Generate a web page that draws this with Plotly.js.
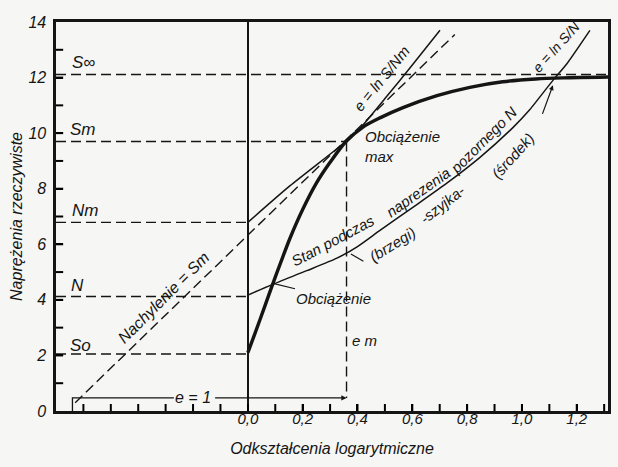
<!DOCTYPE html>
<html>
<head>
<meta charset="utf-8">
<script src="https://cdn.plot.ly/plotly-3.0.1.min.js"></script>
<style>
  html, body { margin: 0; padding: 0; background: #f6f6f4; }
  #chart { width: 618px; height: 467px; }
</style>
</head>
<body>
<div id="chart"></div>
<script>
// ---- data ----
// true stress-strain curve (thick)
const strainTrue = [0, 0.03, 0.06, 0.09, 0.12, 0.153, 0.2, 0.25, 0.3, 0.358, 0.42, 0.482, 0.566, 0.69, 0.81, 0.93, 1.05, 1.15, 1.314];
const stressTrue = [2.1, 2.9, 3.72, 4.55, 5.35, 6.2, 7.25, 8.2, 8.95, 9.70, 10.22, 10.55, 10.92, 11.35, 11.65, 11.85, 11.95, 11.99, 12.02];
// e = ln S/Nm
const strainNm = [0, 0.153, 0.358, 0.409, 0.504, 0.60, 0.701];
const stressNm = [6.79, 8.1, 9.70, 10.17, 11.29, 12.45, 13.70];
// e = ln S/N  (stan podczas naprezenia pozornego N)
const strainN = [0, 0.088, 0.215, 0.325, 0.40, 0.482, 0.602, 0.726, 0.847, 0.967, 1.029, 1.113, 1.164, 1.248];
const stressN = [4.17, 4.55, 5.05, 5.5, 5.92, 6.5, 7.33, 8.2, 9.13, 10.2, 10.85, 11.9, 12.5, 13.7];
// tangent "Nachylenie = Sm"
const strainTan = [-0.63, 0.755];
const stressTan = [0.3, 13.55];
// characteristic levels
const levelNames = ['S∞', 'Sm', 'Nm', 'N', 'So'];
const levelValues = [12.11, 9.70, 6.79, 4.12, 2.05];
const levelEnds = [1.314, 0.36, 0, 0, 0];
const strainMax = 0.36;        // e m
const bracketStart = -0.64;    // e m - 1
const bracketLevel = 0.47;
const xMin = -0.70, xMax = 1.314;
const xLabelVals = [0, 0.2, 0.4, 0.6, 0.8, 1.0, 1.2];
const xLabelText = ['0,0', '0,2', '0,4', '0,6', '0,8', '1,0', '1,2'];
const xMarkVals = [-0.6, -0.5, -0.4, -0.3, -0.2, -0.1, 0.1, 0.2, 0.3, 0.4, 0.5, 0.6, 0.7, 0.8, 0.9, 1.0, 1.1, 1.2, 1.3];
const yMarkVals = [1, 2, 3, 4, 5, 6, 7, 8, 9, 10, 11, 12, 13];

// ---- styling ----
const ink = '#151515';
const fam = 'Liberation Sans, DejaVu Sans, sans-serif';
const txt = (size) => ({ family: fam, size: size, color: ink, style: 'italic' });
const dashStyle = { color: ink, width: 1.4, dash: '10px,5px' };

const traces = [];
levelValues.forEach((v, i) => {
  traces.push({ x: [xMin, levelEnds[i]], y: [v, v], mode: 'lines', line: dashStyle, hoverinfo: 'skip' });
});
traces.push({ x: [strainMax, strainMax], y: [levelValues[1], bracketLevel], mode: 'lines', line: dashStyle, hoverinfo: 'skip' });
traces.push({ x: strainTan, y: stressTan, mode: 'lines', line: dashStyle, hoverinfo: 'skip' });
traces.push({ x: [bracketStart, bracketStart, -0.27], y: [0, bracketLevel, bracketLevel], mode: 'lines', line: { color: ink, width: 1.3 }, hoverinfo: 'skip' });
traces.push({ x: strainNm, y: stressNm, mode: 'lines', line: { color: ink, width: 1.5, shape: 'spline', smoothing: 0.6 } });
traces.push({ x: strainN, y: stressN, mode: 'lines', line: { color: ink, width: 1.5, shape: 'spline', smoothing: 0.6 } });
traces.push({ x: strainTrue, y: stressTrue, mode: 'lines', line: { color: ink, width: 3.4, shape: 'spline', smoothing: 0.8 } });

const ann = [];
const labelPos = [[-0.60, 12.55], [-0.60, 10.12], [-0.595, 7.23], [-0.62, 4.53], [-0.61, 2.37]];
levelNames.forEach((n, i) => {
  ann.push({ x: labelPos[i][0], y: labelPos[i][1], text: n, showarrow: false, font: txt(17) });
});
const addText = (x, y, text, angle, size, extra) => {
  ann.push(Object.assign({ x: x, y: y, text: text, showarrow: false, textangle: angle || 0, font: txt(size || 15) }, extra || {}));
};
addText(-0.307, 4.08, 'Nachylenie = Sm', -45, 16);
addText(0.487, 11.97, 'e = ln S/Nm', -51, 15);
addText(1.125, 13.1, 'e = ln S/N', -48, 14);
addText(0.42, 9.53, 'Obciążenie<br>max', 0, 15, { xanchor: 'left', align: 'left' });
addText(0.427, 2.55, 'e m', 0, 15);
addText(-0.20, bracketLevel, 'e = 1', 0, 16);
addText(0.31, 6.15, 'Stan podczas', -28, 15);
addText(0.62, 7.87, 'naprezenia', -35, 15);
addText(0.858, 9.74, 'pozornego N', -45, 15);
addText(0.526, 6.0, '(brzegi)', -32, 15);
addText(0.708, 7.45, '-szyjka-', -38, 15);
addText(0.967, 9.2, '(środek)', -48, 15);
ann.push({ x: 0.088, y: 4.6, text: 'Obciążenie', showarrow: true, arrowhead: 0, arrowwidth: 1.2, arrowcolor: ink,
  ax: 62, ay: 15, font: txt(15) });
ann.push({ x: 0.376, y: 5.65, text: '', showarrow: true, arrowhead: 0, arrowwidth: 1.2, arrowcolor: ink, ax: 14, ay: 8 });
ann.push({ x: 1.113, y: 11.72, text: '', showarrow: true, arrowhead: 2, arrowsize: 0.8, arrowwidth: 1.2, arrowcolor: ink, ax: -11, ay: 30 });
ann.push({ x: strainMax, y: bracketLevel, ax: -0.125, ay: bracketLevel, axref: 'x', ayref: 'y', text: '',
  showarrow: true, arrowhead: 2, arrowsize: 0.8, arrowwidth: 1.3, arrowcolor: ink });

// inside tick marks along the bottom and left frame
const shapes = [];
xMarkVals.forEach(v => shapes.push({ type: 'line', xref: 'x', yref: 'paper', x0: v, x1: v, y0: 0, y1: 0.018,
  line: { color: '#000', width: 2 } }));
yMarkVals.forEach(v => shapes.push({ type: 'line', xref: 'paper', yref: 'y', x0: 0, x1: 0.013, y0: v, y1: v,
  line: { color: '#000', width: 2 } }));

const layout = {
  width: 618, height: 467,
  margin: { l: 56, r: 10, t: 22, b: 56 },
  paper_bgcolor: '#f6f6f4', plot_bgcolor: '#f6f6f4',
  showlegend: false,
  font: txt(15),
  xaxis: {
    range: [xMin, xMax], tickmode: 'array', tickvals: xLabelVals, ticktext: xLabelText,
    ticks: 'inside', ticklen: 7, tickwidth: 2, tickcolor: '#000',
    showgrid: false, zeroline: true, zerolinecolor: ink, zerolinewidth: 1.6,
    showline: true, mirror: true, linecolor: ink, linewidth: 2.6,
    tickfont: txt(15), ticklabelstandoff: -8,
    title: { text: 'Odkształcenia logarytmiczne', font: txt(16), standoff: 18 }
  },
  yaxis: {
    range: [0, 14], tickmode: 'linear', tick0: 0, dtick: 2,
    ticks: 'inside', ticklen: 7, tickwidth: 2, tickcolor: '#000',
    showgrid: false, zeroline: false,
    showline: true, mirror: true, linecolor: ink, linewidth: 2.6,
    tickfont: txt(16), ticklabelstandoff: 4,
    title: { text: 'Naprężenia rzeczywiste', font: txt(16), standoff: 2 }
  },
  shapes: shapes,
  annotations: ann
};

Plotly.newPlot('chart', traces, layout, { displayModeBar: false, staticPlot: true });
</script>
</body>
</html>
